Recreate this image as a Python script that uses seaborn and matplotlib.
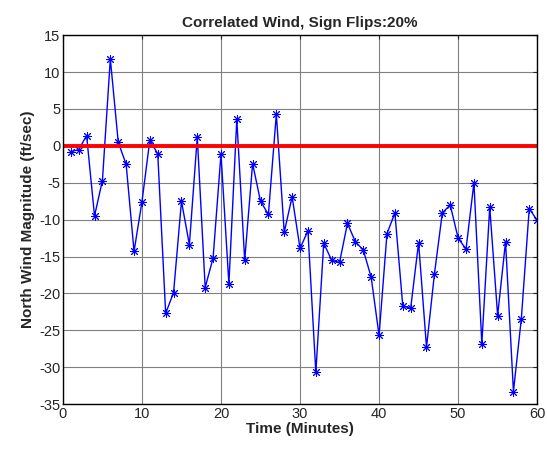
import numpy as np
import pandas as pd
import matplotlib
matplotlib.use('Agg')
import matplotlib.pyplot as plt
import seaborn as sns

# wind samples, one per minute
minutes = list(range(1, 61))
wind = [-0.8, -0.5, 1.4, -9.5, -4.7, 11.8, 0.5, -2.5, -14.3, -7.6,
        0.8, -1.1, -22.7, -19.9, -7.5, -13.4, 1.2, -19.2, -15.2, -1.1,
        -18.7, 3.6, -15.5, -2.4, -7.5, -9.3, 4.3, -11.7, -6.9, -13.9,
        -11.5, -30.7, -13.2, -15.5, -15.8, -10.5, -13.0, -14.1, -17.8, -25.7,
        -11.9, -9.1, -21.7, -22.0, -13.1, -27.3, -17.4, -9.1, -8.0, -12.5,
        -14.0, -5.0, -26.8, -8.3, -23.0, -13.0, -33.3, -23.4, -8.5, -10.1]
zero_x = [0, 60]
zero_y = [0, 0]

df = pd.DataFrame({'Time': minutes, 'Wind': wind})
zero = pd.DataFrame({'Time': zero_x, 'Wind': zero_y})

sns.set_style("white")
plt.rcParams['font.family'] = ['Liberation Sans', 'DejaVu Sans']
plt.rcParams['axes.unicode_minus'] = False

fig = plt.figure(figsize=(5.47, 4.51), dpi=100)
ax = fig.add_axes([0.115, 0.104, 0.867, 0.818])

sns.lineplot(data=df, x='Time', y='Wind', ax=ax, color='blue', linewidth=1,
             marker=(8, 2, 0), markersize=6.5, markeredgecolor='blue',
             markeredgewidth=0.7)
sns.lineplot(data=zero, x='Time', y='Wind', ax=ax, color='red', linewidth=2.8)

ax.set_xlim(0, 60)
ax.set_ylim(-35, 15)
ax.set_xticks(range(0, 61, 10))
ax.set_yticks(range(-35, 16, 5))
ax.grid(True, color='#808080', linewidth=0.8)
ax.set_axisbelow(True)
ax.tick_params(direction='in', top=True, right=True, labelsize=10.5, length=3,
               pad=2)
for s in ax.spines.values():
    s.set_color('black')
    s.set_linewidth(1)

ax.set_xlabel('Time (Minutes)', fontsize=11, fontweight='bold', labelpad=1)
ax.set_ylabel('North Wind Magnitude (ft/sec)', fontsize=11, fontweight='bold',
              labelpad=3)
ax.set_title('Correlated Wind, Sign Flips:20%', fontsize=11, fontweight='bold',
             pad=6)

plt.savefig('out.png', dpi=100)
